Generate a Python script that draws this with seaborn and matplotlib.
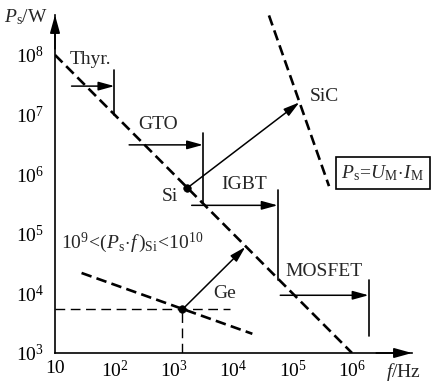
import numpy as np
import matplotlib
matplotlib.use("Agg")
import matplotlib.pyplot as plt
import seaborn as sns

# ---------------- data ----------------
x_ticks = [1e1, 1e2, 1e3, 1e4, 1e5, 1e6]
x_tick_labels = ["10", r"$10^2$", r"$10^3$", r"$10^4$", r"$10^5$", r"$10^6$"]
y_ticks = [1e3, 1e4, 1e5, 1e6, 1e7, 1e8]
y_tick_labels = [r"$10^3$", r"$10^4$", r"$10^5$", r"$10^6$", r"$10^7$", r"$10^8$"]

# Si limit line  (Ps * f = 1e9)
si_f = [10, 1e6]
si_p = [1e8, 1e3]

# SiC limit line
sic_f = [4.0e4, 4.1e5]
sic_p = [4.6e8, 6.3e5]

# device ranges: arrow (f_start, f_end, P) and bar (f, P_top, P_bottom)
devices = ["Thyr.", "GTO", "IGBT", "MOSFET"]
arrow_f0 = [19, 177, 2.0e3, 6.2e4]
arrow_f1 = [100, 3.1e3, 5.6e4, 1.9e6]
arrow_p = [3.0e7, 3.1e6, 3.0e5, 9.3e3]
bar_top = [5.6e7, 4.9e6, 5.4e5, 1.7e4]
bar_bottom = [1.0e7, 3.3e5, 1.7e4, 1.9e3]

# Si point and arrow to SiC
si_point = (1.7e3, 5.9e5)
sic_point = (1.3e5, 1.6e7)

# Ge line, point and arrow
ge_f = [28, 2.1e4]
ge_p = [2.2e4, 2.1e3]
ge_point = (1.4e3, 5.4e3)
ge_arrow_end = (1.6e4, 6.0e4)
ge_h_end = 8.9e3

# ---------------- style ----------------
sns.set_theme(style="white")
plt.rcParams["font.family"] = ["Liberation Serif", "DejaVu Serif"]
plt.rcParams["mathtext.fontset"] = "custom"
plt.rcParams["mathtext.rm"] = "Liberation Serif"
plt.rcParams["mathtext.it"] = "Liberation Serif:italic"
plt.rcParams["mathtext.bf"] = "Liberation Serif:bold"
FS = 14

fig = plt.figure(figsize=(4.35, 3.82), dpi=100)
ax = fig.add_axes([55 / 435, 1 - 353 / 382, (412 - 55) / 435, (353 - 15) / 382])
ax.set_xscale("log")
ax.set_yscale("log")
ax.set_xlim(10, 10 ** 7.01)
ax.set_ylim(1e3, 10 ** 8.67)

for s in ["top", "right"]:
    ax.spines[s].set_visible(False)
for s in ["left", "bottom"]:
    ax.spines[s].set_color("black")
    ax.spines[s].set_linewidth(1.2)

ax.set_xticks(x_ticks)
ax.set_xticklabels(x_tick_labels, fontsize=FS)
ax.set_yticks(y_ticks)
ax.set_yticklabels(y_tick_labels, fontsize=FS)
ax.minorticks_off()
ax.tick_params(axis="x", direction="in", length=5, width=1.2, pad=5, colors="black")
ax.tick_params(axis="y", direction="out", length=6, width=1.2, pad=2, colors="black")

# axis arrows
arrow_kw = dict(arrowstyle="-|>,head_length=0.9,head_width=0.25", color="black", lw=1.2,
                shrinkA=0, shrinkB=0, mutation_scale=12)
ax.annotate("", xy=(1.0, 0), xytext=(0.9, 0), xycoords="axes fraction", arrowprops=arrow_kw,
            annotation_clip=False)
ax.annotate("", xy=(0, 1.0), xytext=(0, 0.9), xycoords="axes fraction", arrowprops=arrow_kw,
            annotation_clip=False)

thick_dash = dict(color="black", lw=1.9, linestyle=(0, (4, 2)))
thin_dash = dict(color="black", lw=1.0, linestyle=(0, (7, 4)))

# limit lines
sns.lineplot(x=si_f, y=si_p, ax=ax, estimator=None, sort=False, **thick_dash)
sns.lineplot(x=sic_f, y=sic_p, ax=ax, estimator=None, sort=False, **thick_dash)
sns.lineplot(x=ge_f, y=ge_p, ax=ax, estimator=None, sort=False, **thick_dash)

# Ge guide lines
sns.lineplot(x=[10, ge_h_end], y=[ge_point[1], ge_point[1]], ax=ax, estimator=None, sort=False, **thin_dash)
sns.lineplot(x=[ge_point[0], ge_point[0]], y=[1e3, ge_point[1]], ax=ax, estimator=None, sort=False, **thin_dash)

# device ranges
data_arrow = dict(arrowstyle="-|>,head_length=0.8,head_width=0.22", color="black", lw=1.1,
                  shrinkA=0, shrinkB=0, mutation_scale=12)
for i in range(len(devices)):
    ax.annotate("", xy=(arrow_f1[i], arrow_p[i]), xytext=(arrow_f0[i], arrow_p[i]), arrowprops=data_arrow)
    sns.lineplot(x=[arrow_f1[i], arrow_f1[i]], y=[bar_top[i], bar_bottom[i]], ax=ax,
                 estimator=None, sort=False, color="black", lw=1.2)

# Si -> SiC, Ge -> up
ax.annotate("", xy=sic_point, xytext=si_point, arrowprops=data_arrow)
ax.annotate("", xy=ge_arrow_end, xytext=ge_point, arrowprops=data_arrow)
sns.scatterplot(x=[si_point[0], ge_point[0]], y=[si_point[1], ge_point[1]], ax=ax,
                color="black", s=30, edgecolor="black", zorder=5)

# labels
ax.text(18, 8.3e7, "Thyr.", fontsize=FS, ha="left", va="center")
ax.text(540, 6.8e6, "GTO", fontsize=FS, ha="center", va="center")
ax.text(1.5e4, 6.6e5, "IGBT", fontsize=FS, ha="center", va="center")
ax.text(3.4e5, 2.3e4, "MOSFET", fontsize=FS, ha="center", va="center")
ax.text(1.95e5, 2.0e7, "SiC", fontsize=FS, ha="left", va="center")
ax.text(870, 4.2e5, "Si", fontsize=FS, ha="center", va="center")
ax.text(7.2e3, 1.0e4, "Ge", fontsize=FS, ha="center", va="center")
ax.text(12.5, 7.1e4, r"$10^9\!<\!(P_{\rm s}\!\cdot\! f\,)_{\rm Si}\!<\!10^{10}$", fontsize=FS,
        ha="left", va="center")
ax.text(3.3e6, 1.05e6, r"$P_{\rm s}\!=\!U_{\rm M}\!\cdot\! I_{\rm M}$", fontsize=FS,
        ha="center", va="center",
        bbox=dict(boxstyle="square,pad=0.3", fc="white", ec="black", lw=1.2))

fig.text(4 / 435, 1 - 17 / 382, r"$P_{\rm s}$/W", fontsize=FS, ha="left", va="center")
fig.text(386 / 435, 1 - 372 / 382, r"$f$/Hz", fontsize=FS, ha="left", va="center")

fig.savefig("out.png", dpi=100)
